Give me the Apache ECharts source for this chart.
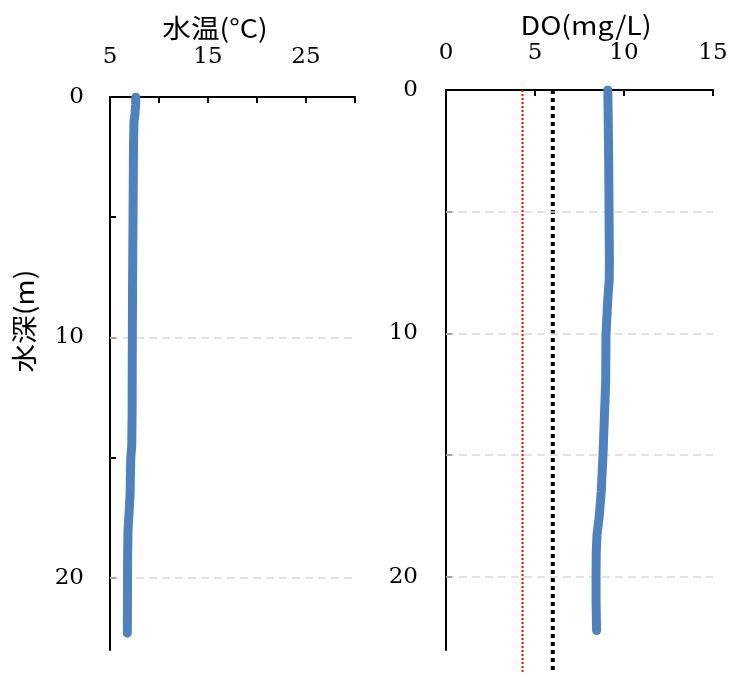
<!DOCTYPE html>
<html><head><meta charset="utf-8">
<script src="https://cdn.jsdelivr.net/npm/echarts@6.0.0/dist/echarts.min.js"></script>
<style>html,body{margin:0;padding:0;background:#fff}#c{width:732px;height:675px}</style>
</head><body><div id="c"></div>
<script>
// ---- data ----
const tempDepth  = [0, 0.3, 0.7, 1.0, 2, 5, 8, 11, 13, 14.5, 15, 16.5, 17.2, 18, 19, 20, 21, 22.3];
const tempValues = [7.64, 7.62, 7.55, 7.45, 7.4, 7.35, 7.3, 7.27, 7.26, 7.22, 7.12, 7.05, 6.96, 6.84, 6.8, 6.79, 6.78, 6.77];
const doDepth    = [0, 1, 3, 5, 7, 7.8, 8.6, 10, 12, 13, 15, 16.5, 17.5, 18.3, 19, 20, 21, 22.2];
const doValues   = [9.09, 9.11, 9.14, 9.16, 9.18, 9.17, 9.09, 8.99, 8.97, 8.92, 8.82, 8.72, 8.61, 8.48, 8.44, 8.43, 8.43, 8.46];
const refRedDO   = 4.3;
const refBlackDO = 6;
const refDepth   = [0, 23.9];
const tempTicks  = [5, 10, 15, 20, 25, 30];
const tempLabels = [5, 15, 25];
const doLabels   = [0, 5, 10, 15];
const depthTicks = [0, 5, 10, 15, 20];
const depthLabels = [0, 10, 20];
const leftGridDepths  = [10, 20];
const rightGridDepths = [5, 10, 15, 20];

const zip = (xs, ys) => xs.map((x, i) => [x, ys[i]]);
const numFont = {fontFamily: '"DejaVu Serif", serif', fontSize: 23, color: '#000'};
const axisLine = {show: true, lineStyle: {color: '#000', width: 2}};
const tickStyle = {color: '#000', width: 2};
const gridLineStyle = {color: '#d9d9d9', width: 1.5, type: [8, 5]};
const titleFont = '26px "Noto Sans CJK JP"';

function gridMark(depths) {
  return {
    silent: true, symbol: 'none', label: {show: false},
    lineStyle: gridLineStyle, emphasis: {disabled: true},
    data: depths.map(d => ({yAxis: d}))
  };
}

const chart = echarts.init(document.getElementById('c'), null, {renderer: 'canvas'});
chart.setOption({
  animation: false,
  backgroundColor: '#fff',
  grid: [
    {left: 110, top: 97, width: 245, height: 553},
    {left: 446, top: 90, width: 267, height: 560}
  ],
  xAxis: [
    {gridIndex: 0, type: 'value', position: 'top', min: 5, max: 30, interval: 5,
     axisLine: axisLine,
     axisTick: {show: true, inside: true, length: 6, lineStyle: tickStyle, customValues: tempTicks},
     axisLabel: Object.assign({margin: 28, customValues: tempLabels}, numFont),
     splitLine: {show: false}},
    {gridIndex: 1, type: 'value', position: 'top', min: 0, max: 15, interval: 5,
     axisLine: axisLine,
     axisTick: {show: true, inside: true, length: 6, lineStyle: tickStyle},
     axisLabel: Object.assign({margin: 25, customValues: doLabels}, numFont),
     splitLine: {show: false}}
  ],
  yAxis: [
    {gridIndex: 0, type: 'value', inverse: true, min: 0, max: 23, interval: 5,
     axisLine: axisLine,
     axisTick: {show: true, inside: true, length: 6, lineStyle: tickStyle, customValues: depthTicks},
     axisLabel: Object.assign({margin: 26, customValues: depthLabels}, numFont),
     splitLine: {show: false}},
    {gridIndex: 1, type: 'value', inverse: true, min: 0, max: 23, interval: 5,
     axisLine: axisLine,
     axisTick: {show: true, inside: true, length: 6, lineStyle: tickStyle, customValues: depthTicks},
     axisLabel: Object.assign({margin: 28, customValues: depthLabels}, numFont),
     splitLine: {show: false}}
  ],
  graphic: [
    {type: 'text', x: 215, y: 28, scaleX: 1.1, style: {text: '水温(°C)', font: titleFont, fill: '#000', align: 'center', verticalAlign: 'middle'}},
    {type: 'text', x: 586, y: 25, scaleX: 1.1, style: {text: 'DO(mg/L)', font: titleFont, fill: '#000', align: 'center', verticalAlign: 'middle'}},
    {type: 'text', x: 24, y: 321, rotation: Math.PI / 2, scaleX: 1.1, style: {text: '水深(m)', font: titleFont, fill: '#000', align: 'center', verticalAlign: 'middle'}}
  ],
  series: [
    {type: 'line', xAxisIndex: 0, yAxisIndex: 0, data: [], z: 1, markLine: gridMark(leftGridDepths)},
    {type: 'line', xAxisIndex: 1, yAxisIndex: 1, data: [], z: 1, markLine: gridMark(rightGridDepths)},
    {type: 'line', xAxisIndex: 0, yAxisIndex: 0, data: zip(tempValues, tempDepth), showSymbol: false, z: 5,
     lineStyle: {color: '#4F81BD', width: 9, cap: 'round', join: 'round'}},
    {type: 'line', xAxisIndex: 1, yAxisIndex: 1, data: refDepth.map(d => [refRedDO, d]), showSymbol: false, z: 3, clip: false,
     lineStyle: {color: '#ff0000', width: 2, type: [2, 2]}},
    {type: 'line', xAxisIndex: 1, yAxisIndex: 1, data: refDepth.map(d => [refBlackDO, d]), showSymbol: false, z: 3, clip: false,
     lineStyle: {color: '#000', width: 4, type: [4, 4]}},
    {type: 'line', xAxisIndex: 1, yAxisIndex: 1, data: zip(doValues, doDepth), showSymbol: false, z: 5,
     lineStyle: {color: '#4F81BD', width: 9, cap: 'round', join: 'round'}}
  ]
});
</script></body></html>
